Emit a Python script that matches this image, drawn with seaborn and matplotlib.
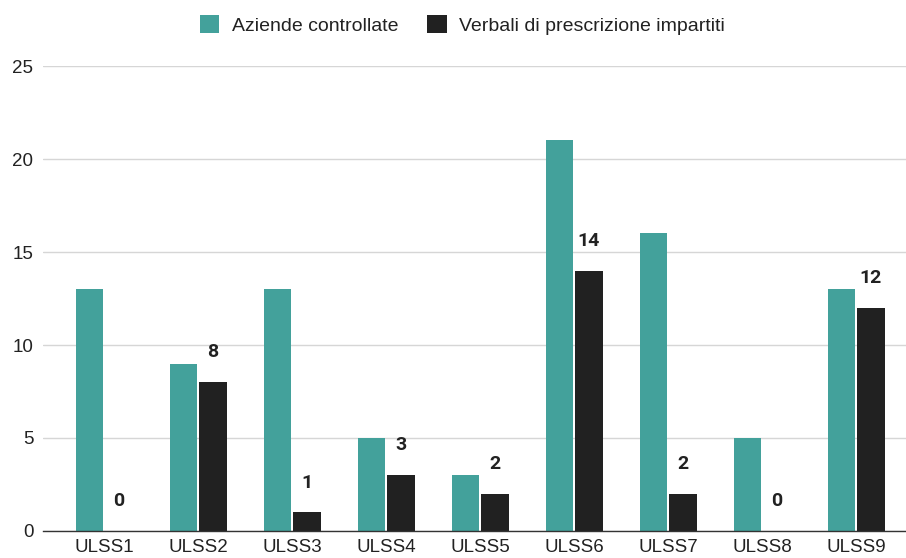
import matplotlib
matplotlib.use('Agg')
import matplotlib.pyplot as plt
import seaborn as sns
import pandas as pd

# Data
categories = ['ULSS1', 'ULSS2', 'ULSS3', 'ULSS4', 'ULSS5', 'ULSS6', 'ULSS7', 'ULSS8', 'ULSS9']
aziende = [13, 9, 13, 5, 3, 21, 16, 5, 13]
verbali = [0, 8, 1, 3, 2, 14, 2, 0, 12]
series_names = ['Aziende controllate', 'Verbali di prescrizione impartiti']

df = pd.DataFrame({
    'ulss': categories * 2,
    'valore': aziende + verbali,
    'serie': [series_names[0]] * len(categories) + [series_names[1]] * len(categories),
})

sns.set_style('white')
plt.rcParams['font.family'] = ['Liberation Sans', 'DejaVu Sans']

fig = plt.figure(figsize=(9.06, 5.58), dpi=100)
ax = fig.add_axes([0.0475, 0.0484, 0.9525, 0.8333])

palette = {series_names[0]: '#43a19b', series_names[1]: '#212121'}
sns.barplot(data=df, x='ulss', y='valore', hue='serie', palette=palette,
            width=0.62, gap=0.05, ax=ax, saturation=1, linewidth=0)

# value labels only on the second series
for bar_cont in ax.containers[1:2]:
    for bar, v in zip(bar_cont, verbali):
        ax.annotate(f'{v}', (bar.get_x() + bar.get_width() / 2, bar.get_height()),
                    xytext=(0, 15), textcoords='offset points', ha='center', va='bottom',
                    fontsize=14, fontweight='bold', color='#222222',
                    family=['Roboto', 'DejaVu Sans'])

ax.set_ylim(0, 25)
ax.set_yticks([0, 5, 10, 15, 20, 25])
ax.set_xlim(-0.65, 8.53)
ax.yaxis.grid(True, color='#d6d6d6', linewidth=1)
ax.set_axisbelow(True)
for s in ['top', 'right', 'left']:
    ax.spines[s].set_visible(False)
ax.spines['bottom'].set_color('#333333')
ax.spines['bottom'].set_linewidth(1)
ax.set_xlabel('')
ax.set_ylabel('')
ax.tick_params(axis='both', length=0, labelsize=13.5, colors='#222222')
ax.tick_params(axis='y', pad=7)
ax.tick_params(axis='x', pad=6)

leg = ax.legend(loc='center', bbox_to_anchor=(0.486, 1.088), ncol=2, frameon=False,
                fontsize=14, handlelength=1.0, handleheight=1.0, handletextpad=0.65,
                columnspacing=1.5)
for t in leg.get_texts():
    t.set_color('#222222')

fig.savefig('out.png', dpi=100)
